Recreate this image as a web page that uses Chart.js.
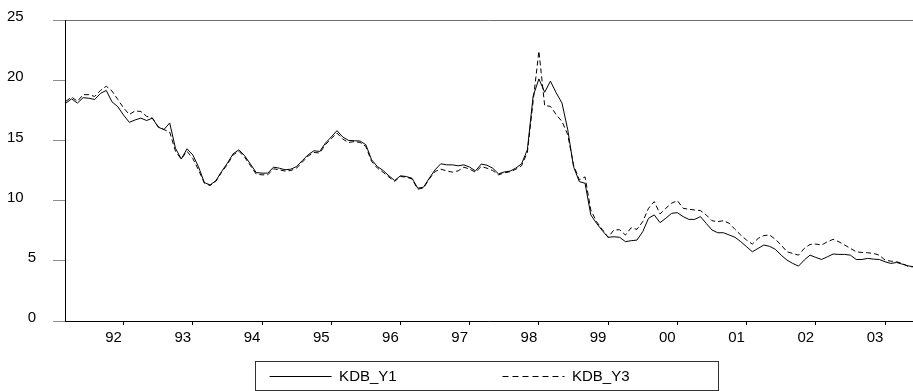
<!DOCTYPE html>
<html>
<head>
<meta charset="utf-8">
<script src="https://cdn.jsdelivr.net/npm/chart.js@4/dist/chart.umd.min.js"></script>
<style>
  html, body { margin: 0; padding: 0; background: #ffffff; }
  #wrap { width: 913px; height: 391px; }
</style>
</head>
<body>
<div id="wrap"><canvas id="c" width="913" height="391"></canvas></div>
<script>
// Monthly observations, 1991M03 .. 2003M06
const startYear = 1991;
const startMonth = 3;

const seriesNames = ['KDB_Y1', 'KDB_Y3'];

const kdbY1 = [
  18.1, 18.45, 18.1, 18.55, 18.5, 18.4, 18.9, 19.15, 18.2, 17.8,
  17.1, 16.5, 16.7, 16.85, 16.65, 16.85, 16.1, 15.9, 16.45, 14.35,
  13.45, 14.3, 13.8, 12.8, 11.5, 11.3, 11.65, 12.42, 13.11, 13.89,
  14.22, 13.72, 13.03, 12.33, 12.28, 12.28, 12.78, 12.69, 12.56, 12.61,
  12.83, 13.33, 13.81, 14.14, 14.08, 14.78, 15.28, 15.81, 15.28, 15.0,
  14.97, 14.95, 14.64, 13.39, 12.83, 12.5, 12.06, 11.67, 12.06, 12.0,
  11.86, 11.03, 11.11, 11.86, 12.56, 13.06, 12.97, 12.97, 12.89, 12.97,
  12.78, 12.47, 13.03, 12.94, 12.69, 12.22, 12.38, 12.45, 12.7, 13.06,
  14.22, 18.67, 20.11, 19.0, 19.92, 18.95, 18.11, 15.89, 12.83, 11.58,
  11.44, 8.81, 8.11, 7.5, 6.95, 7.0, 6.95, 6.59, 6.67, 6.72,
  7.42, 8.53, 8.81, 8.17, 8.53, 8.94, 9.0, 8.67, 8.44, 8.44,
  8.67, 8.11, 7.56, 7.33, 7.33, 7.14, 6.95, 6.59, 6.17, 5.75,
  6.03, 6.31, 6.2, 5.95, 5.47, 5.06, 4.78, 4.56, 5.06, 5.47,
  5.28, 5.11, 5.33, 5.56, 5.53, 5.53, 5.47, 5.11, 5.11, 5.2,
  5.14, 5.11, 4.92, 4.78, 4.86, 4.72, 4.58, 4.5
];

const kdbY3 = [
  18.25, 18.6, 18.25, 18.8, 18.8, 18.65, 19.15, 19.5, 19.1, 18.4,
  17.7, 17.15, 17.45, 17.4, 17.0, 16.85, 16.15, 15.9, 15.7, 14.1,
  13.45, 14.1, 13.5, 12.55, 11.45, 11.25, 11.6, 12.35, 13.0, 13.8,
  14.1, 13.6, 12.9, 12.2, 12.14, 12.14, 12.64, 12.56, 12.45, 12.5,
  12.7, 13.2, 13.7, 14.0, 13.95, 14.65, 15.15, 15.61, 15.11, 14.83,
  14.9, 14.83, 14.5, 13.25, 12.7, 12.35, 11.95, 11.6, 12.0, 11.95,
  11.8, 10.95, 11.05, 11.8, 12.42, 12.61, 12.47, 12.36, 12.47, 12.78,
  12.61, 12.36, 12.83, 12.69, 12.5, 12.14, 12.3, 12.4, 12.6, 12.9,
  14.0, 18.25, 22.42, 17.89, 17.83, 17.14, 16.58, 15.47, 12.97, 11.72,
  11.97, 9.22, 8.25, 7.6, 6.95, 7.56, 7.58, 7.14, 7.75, 7.61,
  8.25, 9.36, 9.92, 8.89, 9.36, 9.78, 10.0, 9.36, 9.28, 9.22,
  9.17, 8.81, 8.33, 8.25, 8.33, 8.11, 7.61, 7.14, 6.72, 6.39,
  6.86, 7.1, 7.14, 6.78, 6.31, 5.75, 5.61, 5.47, 6.03, 6.36,
  6.39, 6.31, 6.58, 6.78, 6.58, 6.31, 6.03, 5.75, 5.69, 5.67,
  5.61, 5.47, 5.06, 4.97, 4.92, 4.78, 4.53, 4.5
];

const xTickLabels = ['92', '93', '94', '95', '96', '97', '98', '99', '00', '01', '02', '03'];
const yTicks = [0, 5, 10, 15, 20, 25];

// month categories (index -> year/month)
const months = kdbY1.map((_, i) => {
  const m0 = startMonth - 1 + i;
  return { year: startYear + Math.floor(m0 / 12), month: (m0 % 12) + 1 };
});
const januaryIdx = months.map((m, i) => (m.month === 1 ? i : -1)).filter(i => i >= 0);

const FONT = { family: "'Liberation Sans', Arial, sans-serif", size: 15 };
const DASH = [5, 3];
const LEGEND_DASH = [6, 4];

const legendFrame = {
  id: 'legendFrame',
  afterDraw(chart) {
    const lg = chart.legend;
    if (!lg || !lg.legendHitBoxes || lg.legendHitBoxes.length < 2) return;
    const a = lg.legendHitBoxes[0], b = lg.legendHitBoxes[1];
    const cy = a.top + a.height / 2;
    const ctx = chart.ctx;
    ctx.save();
    ctx.strokeStyle = '#333333';
    ctx.lineWidth = 1;
    ctx.setLineDash([]);
    const l = Math.round(a.left - 15) + 0.5;
    const r = Math.round(b.left + 215) + 0.5;
    const t = Math.round(cy - 15.5) + 0.5;
    ctx.strokeRect(l, t, r - l, 29);
    ctx.restore();
  }
};

new Chart(document.getElementById('c'), {
  type: 'line',
  data: {
    datasets: [
      {
        label: seriesNames[0],
        data: kdbY1.map((v, i) => ({ x: i, y: v })),
        borderColor: '#000000',
        backgroundColor: '#000000',
        borderWidth: 1,
        pointRadius: 0,
        tension: 0
      },
      {
        label: seriesNames[1],
        data: kdbY3.map((v, i) => ({ x: i, y: v })),
        borderColor: '#000000',
        backgroundColor: '#000000',
        borderWidth: 1,
        borderDash: DASH,
        pointRadius: 0,
        tension: 0
      }
    ]
  },
  options: {
    responsive: false,
    animation: false,
    devicePixelRatio: 1,
    layout: { padding: { left: 7, right: 0, top: 20, bottom: -3 } },
    plugins: {
      tooltip: { enabled: false },
      legend: {
        position: 'bottom',
        align: 'center',
        labels: {
          color: '#000000',
          font: FONT,
          usePointStyle: true,
          pointStyle: 'line',
          pointStyleWidth: 62,
          padding: 10,
          generateLabels(chart) {
            const items = Chart.defaults.plugins.legend.labels.generateLabels(chart);
            items.forEach((it, i) => {
              const ds = chart.data.datasets[it.datasetIndex];
              it.pointStyle = 'line';
              it.lineDash = ds.borderDash ? LEGEND_DASH : [];
              it.lineWidth = ds.borderWidth;
              it.strokeStyle = ds.borderColor;
              it.text = it.text + (i === 0 ? ' '.repeat(23) : ' '.repeat(5));
            });
            return items;
          }
        }
      }
    },
    scales: {
      x: {
        type: 'linear',
        min: -0.15,
        max: 146.85,
        afterBuildTicks(scale) {
          scale.ticks = januaryIdx.map(v => ({ value: v }));
        },
        afterFit(scale) { scale.height = 38; },
        border: { display: true, color: '#000000', width: 1 },
        grid: {
          display: true,
          drawOnChartArea: false,
          drawTicks: true,
          tickLength: 4,
          tickColor: '#000000'
        },
        ticks: {
          autoSkip: false,
          maxRotation: 0,
          color: '#000000',
          font: FONT,
          padding: 4,
          labelOffset: -10,
          callback: (value, index) => xTickLabels[index]
        }
      },
      y: {
        min: 0,
        max: 25,
        afterBuildTicks(scale) {
          scale.ticks = yTicks.map(v => ({ value: v }));
        },
        afterFit(scale) { scale.width = 58; },
        border: { display: true, color: '#000000', width: 1 },
        grid: {
          display: true,
          drawOnChartArea: true,
          drawTicks: true,
          tickLength: 12,
          tickColor: '#8c8c8c',
          color: (ctx) => (ctx.tick && ctx.tick.value === 25 ? '#6e6e6e' : 'rgba(0,0,0,0)')
        },
        ticks: {
          color: '#000000',
          font: FONT,
          crossAlign: 'far',
          labelOffset: -3,
          callback: (value) => (String(value).length < 2 ? '     ' + value : String(value))
        }
      }
    }
  },
  plugins: [legendFrame]
});
</script>
</body>
</html>
